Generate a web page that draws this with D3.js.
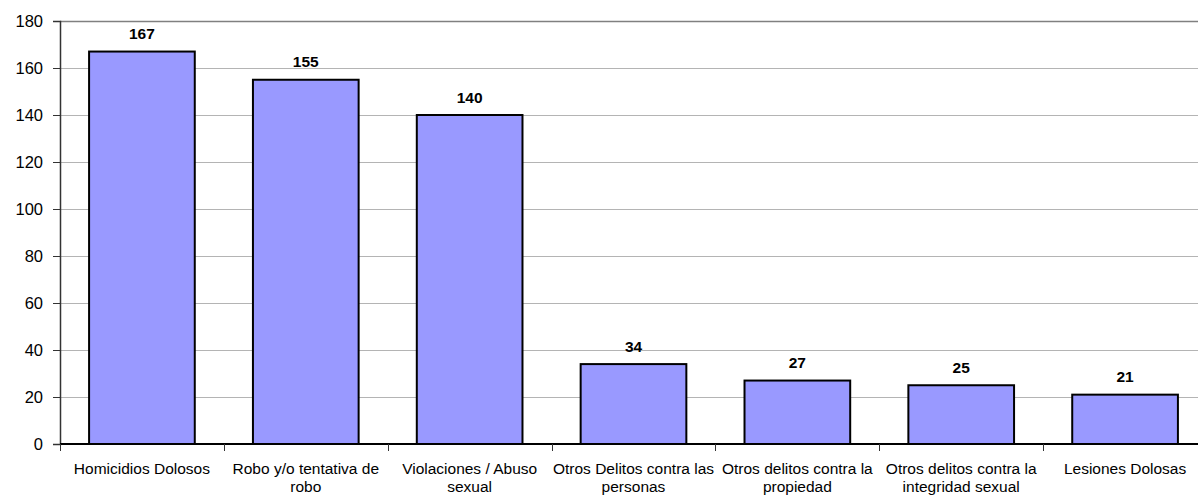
<!DOCTYPE html>
<html>
<head>
<meta charset="utf-8">
<script src="https://cdn.jsdelivr.net/npm/d3@7"></script>
<style>
  body { margin: 0; background: #fff; }
  svg { display: block; font-family: "Liberation Sans", Arial, sans-serif; }
</style>
</head>
<body>
<script>
// data
var categories = ["Homicidios Dolosos", "Robo y/o tentativa de robo", "Violaciones / Abuso sexual",
  "Otros Delitos contra las personas", "Otros delitos contra la propiedad",
  "Otros delitos contra la integridad sexual", "Lesiones Dolosas"];
var labelLines = [["Homicidios Dolosos"], ["Robo y/o tentativa de", "robo"], ["Violaciones / Abuso", "sexual"],
  ["Otros Delitos contra las", "personas"], ["Otros delitos contra la", "propiedad"],
  ["Otros delitos contra la", "integridad sexual"], ["Lesiones Dolosas"]];
var values = [167, 155, 140, 34, 27, 25, 21];
var yTicks = [0, 20, 40, 60, 80, 100, 120, 140, 160, 180];

var svg = d3.select("body").append("svg")
  .attr("width", 1198)
  .attr("height", 500);

var plotLeft = 60, plotRight = 1207, plotTop = 21, plotBottom = 444;

var x = d3.scaleBand()
  .domain(categories)
  .range([plotLeft, plotRight])
  .paddingInner(0.355)
  .paddingOuter(0.1775);

var y = d3.scaleLinear()
  .domain([0, 180])
  .range([plotBottom, plotTop]);

// gridlines
svg.append("g")
  .selectAll("line")
  .data(yTicks.slice(1, -1))
  .enter()
  .append("line")
  .attr("x1", plotLeft)
  .attr("x2", plotRight)
  .attr("y1", function(d) { return Math.round(y(d)) + 0.5; })
  .attr("y2", function(d) { return Math.round(y(d)) + 0.5; })
  .attr("stroke", "#b4b4b4")
  .attr("stroke-width", 1);

// top border of plot area
svg.append("line")
  .attr("x1", plotLeft).attr("x2", plotRight)
  .attr("y1", Math.round(y(180)) + 0.5).attr("y2", Math.round(y(180)) + 0.5)
  .attr("stroke", "#808080")
  .attr("stroke-width", 1.5);

// bars
svg.append("g")
  .selectAll("rect")
  .data(values)
  .enter()
  .append("rect")
  .attr("x", function(d, i) { return x(categories[i]); })
  .attr("y", function(d) { return y(d); })
  .attr("width", x.bandwidth())
  .attr("height", function(d) { return y(0) - y(d); })
  .attr("fill", "#9999ff")
  .attr("stroke", "#000")
  .attr("stroke-width", 2);

// value labels
svg.append("g")
  .selectAll("text")
  .data(values)
  .enter()
  .append("text")
  .attr("x", function(d, i) { return x(categories[i]) + x.bandwidth() / 2; })
  .attr("y", function(d) { return y(d) - 12.5; })
  .attr("text-anchor", "middle")
  .style("font-size", "15.5px")
  .style("font-weight", "bold")
  .text(function(d) { return d; });

// y axis
var yAxis = svg.append("g")
  .attr("transform", "translate(" + plotLeft + ",0)")
  .call(d3.axisLeft(y).tickValues(yTicks).tickSize(7).tickPadding(10));
yAxis.select(".domain").attr("stroke", "#333").attr("stroke-width", 1.5);
yAxis.selectAll(".tick line").attr("stroke", "#333");
yAxis.selectAll("text")
  .style("font-size", "16.5px")
  .style("font-family", "\"Liberation Sans\", Arial, sans-serif")
  .attr("fill", "#000");

// x axis line and ticks at band boundaries
svg.append("line")
  .attr("x1", plotLeft).attr("x2", plotRight)
  .attr("y1", plotBottom).attr("y2", plotBottom)
  .attr("stroke", "#000")
  .attr("stroke-width", 2);

svg.append("g")
  .selectAll("line")
  .data(categories)
  .enter()
  .append("line")
  .attr("x1", function(d) { return Math.round(x(d) - x.step() * x.paddingInner() / 2) + 0.5; })
  .attr("x2", function(d) { return Math.round(x(d) - x.step() * x.paddingInner() / 2) + 0.5; })
  .attr("y1", plotBottom)
  .attr("y2", plotBottom + 7)
  .attr("stroke", "#333");

// category labels
var lab = svg.append("g")
  .selectAll("text")
  .data(categories)
  .enter()
  .append("text")
  .attr("x", function(d) { return x(d) + x.bandwidth() / 2; })
  .attr("y", 474)
  .attr("text-anchor", "middle")
  .style("font-size", "15.5px")
  .attr("fill", "#000");

lab.selectAll("tspan")
  .data(function(d, i) { return labelLines[i]; })
  .enter()
  .append("tspan")
  .attr("x", function() { return d3.select(this.parentNode).attr("x"); })
  .attr("dy", function(d, i) { return i === 0 ? 0 : 18; })
  .text(function(d) { return d; });
</script>
</body>
</html>
